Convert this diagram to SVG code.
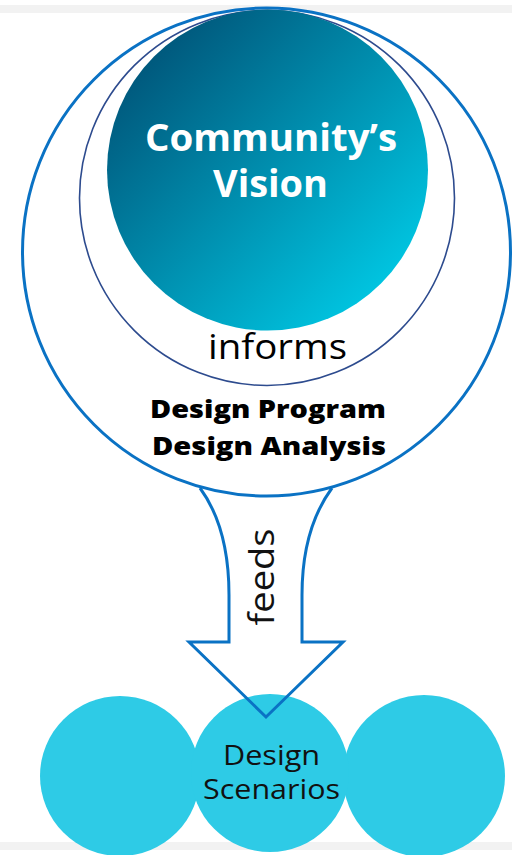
<svg xmlns="http://www.w3.org/2000/svg" width="512" height="855" viewBox="0 0 512 855">
  <defs>
    <linearGradient id="vis" x1="0.15" y1="0.15" x2="0.85" y2="0.85">
      <stop offset="0" stop-color="#005a7e"/>
      <stop offset="1" stop-color="#00c3df"/>
    </linearGradient>
    <style>
      .t { font-family: "Open Sans", "Liberation Sans", sans-serif; text-anchor: middle; }
      .scen { fill: #2ecbe6; }
    </style>
  </defs>
  <rect x="0" y="0" width="512" height="855" fill="#ffffff"/>
  <rect x="0" y="5" width="512" height="8" fill="#f2f2f2"/>
  <rect x="0" y="842" width="512" height="8" fill="#f2f2f2"/>

  <g id="design-program">
    <circle cx="266.5" cy="252" r="244" fill="none" stroke="#0a72c4" stroke-width="3"/>
    <text class="t" x="268" y="418" font-size="25" font-weight="800" textLength="236" lengthAdjust="spacingAndGlyphs">Design Program</text>
    <text class="t" x="269" y="455" font-size="25" font-weight="800" textLength="234" lengthAdjust="spacingAndGlyphs">Design Analysis</text>
  </g>

  <g id="informs">
    <circle cx="267" cy="198" r="187.5" fill="none" stroke="#2d4b8e" stroke-width="1.6"/>
    <text class="t" x="277.5" y="359" font-size="34" textLength="139" lengthAdjust="spacingAndGlyphs">informs</text>
  </g>

  <g id="community-vision">
    <circle cx="267.5" cy="170" r="160.5" fill="url(#vis)"/>
    <text class="t" x="271" y="151" font-size="37" font-weight="bold" fill="#ffffff" textLength="252" lengthAdjust="spacingAndGlyphs">Community’s</text>
    <text class="t" x="270.5" y="197" font-size="37" font-weight="bold" fill="#ffffff" textLength="115" lengthAdjust="spacingAndGlyphs">Vision</text>
  </g>

  <g id="scenario-left">
    <circle class="scen" cx="120" cy="776" r="80"/>
  </g>
  <g id="scenario-right">
    <circle class="scen" cx="424" cy="776" r="81"/>
  </g>
  <g id="design-scenarios">
    <circle class="scen" cx="270" cy="773" r="79"/>
    <text class="t" x="271.5" y="765" font-size="27" fill="#111111" textLength="97" lengthAdjust="spacingAndGlyphs">Design</text>
    <text class="t" x="271.5" y="799" font-size="27" fill="#111111" textLength="137" lengthAdjust="spacingAndGlyphs">Scenarios</text>
  </g>

  <g id="connectors">
    <path d="M200,488 C222,518 229,555 229,595 L229,642 L189,642 L266,717 L343,642 L302,642 L302,595 C302,555 310,518 332,488" fill="none" stroke="#0a72c4" stroke-width="3" stroke-linejoin="miter"/>
    <text class="t" transform="translate(274,577) rotate(-90)" x="0" y="0" font-size="34" fill="#111111" textLength="97" lengthAdjust="spacingAndGlyphs">feeds</text>
  </g>
</svg>
